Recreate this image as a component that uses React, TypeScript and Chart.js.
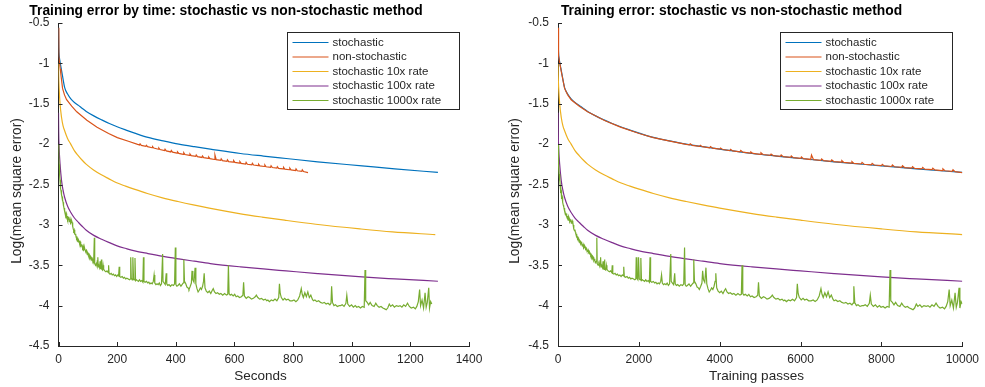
import React, { useEffect, useRef } from "react";
import { Chart, registerables } from "chart.js";

Chart.register(...registerables);

const FONT = "'Liberation Sans', Arial, Helvetica, sans-serif";
const AXIS_COLOR = "#262626";

const seriesLabels = [
  "stochastic",
  "non-stochastic",
  "stochastic 10x rate",
  "stochastic 100x rate",
  "stochastic 1000x rate",
];
const seriesColors = ["#0072BD", "#D95319", "#EDB120", "#7E2F8E", "#77AC30"];
// wall-clock length (seconds) of each 10000-pass run
const runSeconds = [1294, 851, 1285, 1294, 1273];
const TOTAL_PASSES = 10000;

const secondsTicks = [0, 200, 400, 600, 800, 1000, 1200, 1400];
const passTicks = [0, 2000, 4000, 6000, 8000, 10000];
const errorTicks = [-4.5, -4, -3.5, -3, -2.5, -2, -1.5, -1, -0.5];

// [training pass, log(mean square error)]
const stochastic: [number, number][] = [
  [0, -0.56], [8, -0.8], [20, -0.91], [41, -0.98], [70, -1.06], [100, -1.14], [163, -1.3],
  [240, -1.38], [325, -1.44], [420, -1.485], [528, -1.52], [630, -1.56], [732, -1.595],
  [930, -1.65], [1138, -1.7], [1340, -1.745], [1545, -1.785], [1780, -1.826], [2008, -1.864],
  [2358, -1.917], [2760, -1.96], [3171, -2.0], [3580, -2.032], [4000, -2.062], [4797, -2.116],
  [5400, -2.148], [6000, -2.178], [6829, -2.219], [8000, -2.269], [8862, -2.306], [10000, -2.351],
];

const nonStochastic: [number, number][] = [
  [0, -0.56], [8, -0.8], [20, -0.91], [41, -0.99], [70, -1.07], [100, -1.15], [163, -1.31],
  [240, -1.39], [325, -1.45], [528, -1.53], [732, -1.6], [1138, -1.705], [1545, -1.79],
  [2008, -1.868], [2358, -1.92], [2800, -1.965], [3171, -2.003],
  [3250, -2.01], [3270, -1.997], [3320, -2.015],
  [3500, -2.028], [3520, -2.014], [3570, -2.032],
  [3750, -2.045], [3770, -2.031], [3820, -2.049],
  [4000, -2.063], [4020, -2.048], [4070, -2.067],
  [4250, -2.08], [4270, -2.064], [4320, -2.084],
  [4500, -2.097], [4520, -2.079], [4570, -2.1],
  [4750, -2.112], [4770, -2.096], [4820, -2.115],
  [5000, -2.126], [5020, -2.107], [5070, -2.129],
  [5250, -2.139], [5270, -2.123], [5320, -2.142],
  [5500, -2.152], [5520, -2.134], [5570, -2.155],
  [5750, -2.165], [5770, -2.147], [5820, -2.167],
  [6000, -2.177], [6020, -2.159], [6070, -2.18],
  [6250, -2.19], [6270, -2.135], [6320, -2.193],
  [6500, -2.202], [6520, -2.183], [6570, -2.205],
  [6750, -2.213], [6770, -2.195], [6820, -2.216],
  [7000, -2.224], [7020, -2.205], [7070, -2.227],
  [7250, -2.235], [7270, -2.217], [7320, -2.238],
  [7500, -2.246], [7520, -2.226], [7570, -2.249],
  [7750, -2.256], [7770, -2.238], [7820, -2.259],
  [8000, -2.267], [8020, -2.25], [8070, -2.27],
  [8250, -2.277], [8270, -2.258], [8320, -2.28],
  [8500, -2.287], [8520, -2.268], [8570, -2.29],
  [8750, -2.297], [8770, -2.28], [8820, -2.3],
  [9000, -2.307], [9020, -2.288], [9070, -2.31],
  [9250, -2.317], [9270, -2.298], [9320, -2.32],
  [9500, -2.327], [9520, -2.306], [9570, -2.33],
  [9750, -2.337], [9770, -2.318], [9820, -2.34],
  [10000, -2.352],
];

const rate10x: [number, number][] = [
  [0, -1.0], [5, -1.15], [16, -1.3], [41, -1.5], [81, -1.67], [120, -1.77], [163, -1.835],
  [240, -1.93], [325, -2.0], [420, -2.08], [528, -2.145], [630, -2.2], [732, -2.248],
  [930, -2.32], [1138, -2.38], [1340, -2.43], [1545, -2.479], [1780, -2.52], [2008, -2.558],
  [2358, -2.612], [2760, -2.665], [3171, -2.711], [3580, -2.753], [4000, -2.793], [4797, -2.86],
  [5400, -2.903], [6000, -2.942], [6829, -2.992], [8000, -3.05], [8862, -3.087], [10000, -3.12],
];

const rate100x: [number, number][] = [
  [0, -1.61], [5, -1.85], [16, -2.04], [41, -2.248], [81, -2.455], [120, -2.57], [163, -2.661],
  [240, -2.77], [325, -2.847], [420, -2.915], [528, -2.971], [630, -3.02], [732, -3.066],
  [930, -3.13], [1138, -3.178], [1340, -3.22], [1545, -3.26], [1780, -3.293], [2008, -3.322],
  [2358, -3.355], [2760, -3.39], [3171, -3.421], [3580, -3.45], [4000, -3.479], [4797, -3.52],
  [5400, -3.546], [6000, -3.57], [6829, -3.603], [8000, -3.645], [8862, -3.669], [10000, -3.698],
];

const rate1000x: [number, number][] = [
  [0, -2.0], [8, -2.15], [16, -2.25], [28, -2.37], [41, -2.46], [48, -2.44], [55, -2.52],
  [62, -2.55], [68, -2.58], [75, -2.57], [81, -2.62], [88, -2.63], [95, -2.66], [102, -2.65],
  [108, -2.7], [115, -2.69], [122, -2.72], [128, -2.75], [135, -2.77], [142, -2.76], [150, -2.8],
  [156, -2.79], [163, -2.83], [172, -2.82], [180, -2.85], [190, -2.86], [200, -2.88], [208, -2.86],
  [215, -2.87], [222, -2.9], [230, -2.91], [237, -2.89], [244, -2.91], [252, -2.94], [260, -2.93],
  [270, -2.9], [280, -2.92], [290, -2.96], [300, -2.95], [310, -2.93], [320, -2.94], [330, -2.98],
  [340, -2.97], [352, -2.95], [366, -2.97], [375, -3.0], [385, -3.02], [395, -3.05], [407, -3.07],
  [418, -3.06], [430, -3.09], [440, -3.11], [450, -3.12], [460, -3.11], [470, -3.15], [480, -3.14],
  [488, -3.17], [500, -3.16], [510, -3.18], [520, -3.2], [530, -3.21], [540, -3.19], [550, -3.2],
  [560, -3.23], [569, -3.22], [580, -3.21], [590, -3.24], [600, -3.26], [610, -3.25], [620, -3.24],
  [630, -3.27], [640, -3.29], [650, -3.28], [660, -3.26], [670, -3.27], [680, -3.31], [690, -3.3],
  [700, -3.29], [710, -3.31], [720, -3.33], [732, -3.32], [745, -3.31], [755, -3.33], [765, -3.35],
  [775, -3.36], [785, -3.34], [795, -3.35], [805, -3.38], [813, -3.38], [825, -3.37], [835, -3.39],
  [845, -3.42], [855, -3.41], [865, -3.39], [875, -3.4], [885, -3.44], [894, -3.43], [905, -3.42],
  [915, -3.44], [925, -3.47], [935, -3.46], [950, -3.45], [960, -3.16], [970, -3.48],
  [990, -3.5], [1010, -3.48], [1030, -3.51], [1040, -3.44], [1050, -3.5], [1057, -3.4], [1065, -3.52],
  [1085, -3.51], [1100, -3.53], [1115, -3.45], [1125, -3.54], [1138, -3.55], [1150, -3.43],
  [1160, -3.55], [1180, -3.56], [1195, -3.5], [1210, -3.55], [1240, -3.57], [1270, -3.58], [1300, -3.57],
  [1330, -3.59], [1342, -3.5], [1355, -3.6], [1382, -3.61], [1410, -3.6], [1440, -3.62],
  [1470, -3.61], [1500, -3.63], [1530, -3.62], [1560, -3.64], [1590, -3.62], [1610, -3.63],
  [1626, -3.52], [1640, -3.64], [1670, -3.65], [1707, -3.64], [1740, -3.66], [1770, -3.65],
  [1800, -3.67], [1830, -3.66], [1870, -3.67], [1900, -3.68], [1925, -3.67], [1935, -3.4],
  [1950, -3.66], [1975, -3.68], [1992, -3.4], [2010, -3.67], [2035, -3.68], [2049, -3.41],
  [2065, -3.69], [2090, -3.68], [2114, -3.69], [2140, -3.7], [2170, -3.68], [2200, -3.7],
  [2230, -3.69], [2260, -3.71], [2276, -3.4], [2290, -3.7], [2320, -3.71], [2358, -3.7],
  [2390, -3.72], [2420, -3.71], [2450, -3.73], [2480, -3.72], [2510, -3.73], [2540, -3.7],
  [2561, -3.62], [2580, -3.72], [2610, -3.74], [2640, -3.73], [2670, -3.74], [2700, -3.72],
  [2730, -3.75], [2760, -3.73], [2789, -3.36], [2800, -3.7], [2830, -3.72], [2860, -3.74],
  [2886, -3.6], [2900, -3.73], [2927, -3.75], [2960, -3.74], [3000, -3.76], [3040, -3.74],
  [3080, -3.75], [3110, -3.73], [3130, -3.28], [3145, -3.74], [3171, -3.76], [3200, -3.75],
  [3240, -3.73], [3280, -3.76], [3310, -3.74], [3340, -3.72], [3358, -3.43], [3375, -3.7],
  [3410, -3.73], [3440, -3.77], [3470, -3.78], [3496, -3.8], [3530, -3.76], [3560, -3.72],
  [3577, -3.57], [3600, -3.68], [3630, -3.71], [3659, -3.53], [3680, -3.73], [3710, -3.79],
  [3740, -3.83], [3770, -3.81], [3800, -3.78], [3830, -3.8], [3860, -3.76], [3885, -3.7],
  [3903, -3.6], [3925, -3.78], [3960, -3.82], [4000, -3.84], [4040, -3.82], [4080, -3.85],
  [4120, -3.81], [4146, -3.79], [4180, -3.83], [4220, -3.85], [4260, -3.84], [4309, -3.86],
  [4350, -3.85], [4400, -3.87], [4450, -3.85], [4500, -3.87], [4535, -3.86], [4552, -3.5],
  [4570, -3.85], [4600, -3.87], [4634, -3.86], [4680, -3.88], [4720, -3.86], [4760, -3.89],
  [4800, -3.88], [4850, -3.9], [4900, -3.89], [4940, -3.87], [4959, -3.71], [4980, -3.88],
  [5030, -3.91], [5080, -3.89], [5122, -3.9], [5170, -3.92], [5220, -3.91], [5270, -3.89],
  [5300, -3.87], [5340, -3.9], [5390, -3.92], [5440, -3.91], [5490, -3.93], [5540, -3.92],
  [5580, -3.94], [5610, -3.93], [5650, -3.95], [5700, -3.93], [5750, -3.94], [5800, -3.92],
  [5850, -3.94], [5900, -3.9], [5919, -3.73], [5940, -3.85], [5970, -3.9], [6016, -3.93],
  [6060, -3.91], [6100, -3.93], [6150, -3.92], [6200, -3.94], [6260, -3.94], [6310, -3.93],
  [6360, -3.95], [6410, -3.93], [6460, -3.88], [6504, -3.79], [6530, -3.86], [6560, -3.9],
  [6600, -3.84], [6640, -3.89], [6680, -3.83], [6720, -3.9], [6760, -3.87], [6800, -3.92],
  [6829, -3.94], [6870, -3.93], [6920, -3.95], [6970, -3.94], [7020, -3.96], [7073, -3.97],
  [7120, -3.96], [7170, -3.98], [7220, -3.97], [7270, -3.99], [7300, -3.97], [7317, -3.76],
  [7340, -3.96], [7380, -4.0], [7420, -3.99], [7470, -4.01], [7520, -4.0], [7561, -4.0],
  [7600, -3.99], [7650, -4.01], [7700, -3.97], [7724, -3.87], [7750, -3.98], [7800, -4.01],
  [7850, -3.99], [7900, -4.02], [7950, -4.0], [7990, -4.02], [8040, -4.01], [8090, -4.03],
  [8140, -4.01], [8190, -4.02], [8212, -3.56], [8230, -3.94], [8270, -3.96], [8310, -3.99],
  [8350, -3.96], [8400, -4.0], [8455, -4.01], [8500, -3.97], [8540, -4.0], [8590, -4.02],
  [8640, -4.01], [8690, -4.03], [8740, -4.04], [8780, -4.05], [8820, -4.03], [8862, -3.98],
  [8900, -4.01], [8950, -3.99], [9000, -4.02], [9050, -4.0], [9106, -4.01], [9150, -4.0],
  [9200, -4.02], [9250, -3.99], [9300, -4.01], [9350, -3.97], [9400, -4.01], [9450, -4.03],
  [9512, -4.02], [9560, -4.04], [9600, -4.01], [9640, -3.95], [9675, -3.8], [9700, -4.0],
  [9740, -3.93], [9780, -4.03], [9821, -3.84], [9850, -4.02], [9880, -3.96], [9919, -3.78],
  [9940, -4.03], [9970, -3.95], [10000, -3.98],
];

const seriesData = [stochastic, nonStochastic, rate10x, rate100x, rate1000x];
const smoothSeries = [true, false, true, true, false];

const frame = {
  id: "frame",
  afterDraw(chart: any, _args: any, opts: any) {
    const ctx: CanvasRenderingContext2D = chart.ctx;
    const { left, right, top, bottom } = chart.chartArea;
    const xs = chart.scales.x;
    const ys = chart.scales.y;
    ctx.save();
    // inward tick marks
    ctx.strokeStyle = AXIS_COLOR;
    ctx.lineWidth = 1;
    ctx.beginPath();
    xs.ticks.forEach((t: any) => {
      const px = Math.round(xs.getPixelForValue(t.value)) + 0.5;
      ctx.moveTo(px, bottom);
      ctx.lineTo(px, bottom - 4);
    });
    ys.ticks.forEach((t: any) => {
      const py = Math.round(ys.getPixelForValue(t.value)) + 0.5;
      ctx.moveTo(left, py);
      ctx.lineTo(left + 4, py);
    });
    ctx.stroke();

    // legend box
    const boxW = 172;
    const boxH = 77;
    const bx = Math.round(right - 10 - boxW) + 0.5;
    const by = Math.round(top + 9) + 0.5;
    ctx.fillStyle = "#ffffff";
    ctx.fillRect(bx, by, boxW, boxH);
    ctx.strokeStyle = AXIS_COLOR;
    ctx.strokeRect(bx, by, boxW, boxH);
    ctx.font = `11.5px ${FONT}`;
    ctx.textAlign = "left";
    ctx.textBaseline = "middle";
    chart.data.datasets.forEach((ds: any, i: number) => {
      const cy = by + 10 + i * 14.5;
      ctx.strokeStyle = ds.borderColor;
      ctx.lineWidth = 1.2;
      ctx.beginPath();
      ctx.moveTo(bx + 5, cy);
      ctx.lineTo(bx + 41, cy);
      ctx.stroke();
      ctx.fillStyle = AXIS_COLOR;
      ctx.fillText(ds.label, bx + 45, cy);
    });

    // axis titles
    ctx.fillStyle = AXIS_COLOR;
    ctx.font = `13.5px ${FONT}`;
    ctx.textAlign = "center";
    ctx.textBaseline = "middle";
    ctx.fillText(opts.xTitle, opts.xTitleX, 376);
    ctx.save();
    ctx.translate(opts.yTitleX, 191);
    ctx.rotate(-Math.PI / 2);
    ctx.font = `13.8px ${FONT}`;
    ctx.fillText(opts.yTitle, 0, 0);
    ctx.restore();

    // title
    ctx.font = `bold 13.8px ${FONT}`;
    ctx.fillStyle = "#000000";
    ctx.textAlign = "center";
    ctx.textBaseline = "alphabetic";
    ctx.fillText(opts.text, opts.centerX, 15);
    ctx.restore();
  },
};

type PanelProps = {
  mode: "seconds" | "passes";
  pageLeft: number;
  canvasWidth: number;
  yAxisWidth: number;
  padRight: number;
  titleText: string;
  titleCenter: number;
  yTitleX: number;
  xTitle: string;
  xTitleX: number;
};

function Panel(p: PanelProps) {
  const ref = useRef<HTMLCanvasElement>(null);
  useEffect(() => {
    if (!ref.current) return;
    const xTicks = p.mode === "seconds" ? secondsTicks : passTicks;
    const datasets = seriesData.map((series, i) => ({
      label: seriesLabels[i],
      data: series.map(([pass, err]) => ({
        x: p.mode === "seconds" ? (pass / TOTAL_PASSES) * runSeconds[i] : pass,
        y: err,
      })),
      borderColor: seriesColors[i],
      backgroundColor: seriesColors[i],
      borderWidth: 1.2,
      pointRadius: 0,
      fill: false,
      tension: 0,
      cubicInterpolationMode: smoothSeries[i] ? "monotone" : "default",
      order: seriesData.length - i,
    }));
    const chart = new Chart(ref.current, {
      type: "line",
      data: { datasets },
      options: {
        animation: false,
        responsive: false,
        events: [],
        layout: { padding: { left: 0, top: 23, right: p.padRight, bottom: 0 } },
        plugins: {
          legend: { display: false },
          tooltip: { enabled: false },
          title: { display: false },
          frame: {
            text: p.titleText,
            centerX: p.titleCenter,
            xTitle: p.xTitle,
            xTitleX: p.xTitleX,
            yTitle: "Log(mean square error)",
            yTitleX: p.yTitleX,
          },
        } as any,
        scales: {
          x: {
            type: "linear",
            min: xTicks[0],
            max: xTicks[xTicks.length - 1],
            afterBuildTicks: (scale: any) => {
              scale.ticks = xTicks.map((v) => ({ value: v }));
            },
            afterFit: (scale: any) => {
              scale.height = 41;
            },
            grid: { display: true, drawOnChartArea: false, drawTicks: false },
            border: { display: true, color: AXIS_COLOR, width: 1 },
            ticks: {
              color: AXIS_COLOR,
              padding: 6,
              maxRotation: 0,
              autoSkip: false,
              font: { family: FONT, size: 12 },
              callback: (v: any) => String(v),
            },
            title: { display: false },
          },
          y: {
            type: "linear",
            min: errorTicks[0],
            max: errorTicks[errorTicks.length - 1],
            afterBuildTicks: (scale: any) => {
              scale.ticks = errorTicks.map((v) => ({ value: v }));
            },
            afterFit: (scale: any) => {
              scale.width = p.yAxisWidth;
            },
            grid: { display: true, drawOnChartArea: false, drawTicks: false },
            border: { display: true, color: AXIS_COLOR, width: 1 },
            ticks: {
              color: AXIS_COLOR,
              padding: 9,
              autoSkip: false,
              font: { family: FONT, size: 12 },
              callback: (v: any) => String(v),
            },
            title: { display: false },
          },
        },
      },
      plugins: [frame],
    } as any);
    return () => chart.destroy();
  }, []);
  return (
    <canvas
      ref={ref}
      width={p.canvasWidth}
      height={387}
      style={{ position: "absolute", left: p.pageLeft, top: 0, width: p.canvasWidth, height: 387 }}
    />
  );
}

export default function App() {
  return (
    <div style={{ position: "absolute", left: 0, top: 0, width: 985, height: 387, background: "#fff" }}>
      <Panel
        mode="seconds"
        pageLeft={0}
        canvasWidth={490}
        yAxisWidth={58.5}
        padRight={21}
        titleText="Training error by time: stochastic vs non-stochastic method"
        titleCenter={226}
        yTitleX={17}
        xTitle="Seconds"
        xTitleX={260.5}
      />
      <Panel
        mode="passes"
        pageLeft={490}
        canvasWidth={495}
        yAxisWidth={68}
        padRight={16}
        titleText="Training error: stochastic vs non-stochastic method"
        titleCenter={241.5}
        yTitleX={25}
        xTitle="Training passes"
        xTitleX={266.5}
      />
    </div>
  );
}
